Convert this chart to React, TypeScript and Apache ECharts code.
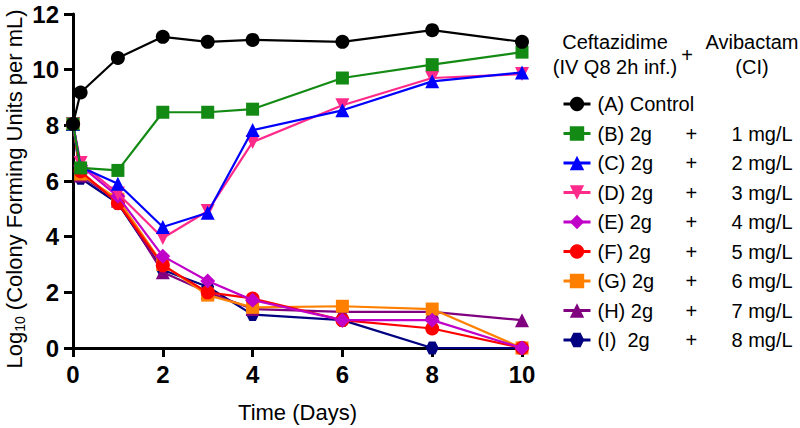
import React, { useEffect, useRef } from "react";
import * as echarts from "echarts";

const times = [0, 0.17, 1, 2, 3, 4, 6, 8, 10];
const seriesNames = ["(A) Control", "(B) 2g", "(C) 2g", "(D) 2g", "(E) 2g", "(F) 2g", "(G) 2g", "(H) 2g", "(I)  2g"];
const doses = ["", "1 mg/L", "2 mg/L", "3 mg/L", "4 mg/L", "5 mg/L", "6 mg/L", "7 mg/L", "8 mg/L"];
const colors = ["#000000", "#138a13", "#0000ff", "#ff2a8a", "#c000c8", "#ff0000", "#ff8000", "#800080", "#000080"];

const valuesA = [8.05, 9.18, 10.42, 11.18, 11.0, 11.07, 11.0, 11.42, 11.0];
const valuesB = [8.05, 6.47, 6.38, 8.47, 8.47, 8.58, 9.7, 10.18, 10.63];
const valuesC = [8.05, 6.5, 5.9, 4.35, 4.86, 7.83, 8.54, 9.58, 9.9];
const valuesD = [8.05, 6.65, 5.55, 3.95, 4.92, 7.4, 8.72, 9.7, 9.84];
const valuesE = [8.05, 6.55, 5.45, 3.3, 2.41, 1.72, 1.0, 1.0, 0];
const valuesF = [8.05, 6.35, 5.2, 2.97, 2.0, 1.78, 1.0, 0.7, 0];
const valuesG = [8.05, 6.25, 5.35, 3.0, 1.9, 1.46, 1.5, 1.4, 0];
const valuesH = [8.05, 6.2, 5.3, 2.72, 2.0, 1.4, 1.3, 1.3, 1.0];
const valuesI = [8.05, 6.1, 5.2, 2.8, 2.2, 1.2, 1.0, 0, 0];
const allValues = [valuesA, valuesB, valuesC, valuesD, valuesE, valuesF, valuesG, valuesH, valuesI];

const downTri = "path://M0,0 L10,0 L5,9 Z";
const hexagon = "path://M0,5 L2.5,0.67 L7.5,0.67 L10,5 L7.5,9.33 L2.5,9.33 Z";
const symbols = ["circle", "rect", "triangle", downTri, "diamond", "circle", "rect", "triangle", hexagon];
const symbolSizes = [14, 13, 14, 14, 15, 14, 13, 14, 13];

const FONT = "Liberation Sans, Arial, sans-serif";

export default function App() {
  const ref = useRef<HTMLDivElement>(null);
  useEffect(() => {
    if (!ref.current) return;
    const chart = echarts.init(ref.current, null, { renderer: "svg" });
    const series = seriesNames.map((name, i) => ({
      name,
      type: "line",
      data: times.map((t, j) => [t, allValues[i][j]]),
      symbol: symbols[i],
      symbolSize: symbolSizes[i],
      z: 20 - i,
      lineStyle: { color: colors[i], width: 2.2 },
      itemStyle: { color: colors[i] },
    }));
    chart.setOption({
      animation: false,
      grid: { left: 73, right: 278, top: 14, bottom: 75 },
      xAxis: {
        type: "value",
        min: 0,
        max: 10,
        interval: 2,
        name: "Time (Days)",
        nameLocation: "middle",
        nameGap: 53,
        nameTextStyle: { fontSize: 22, color: "#000", fontFamily: FONT },
        axisLine: { show: true, lineStyle: { color: "#000", width: 3 } },
        axisTick: { show: true, length: 9, lineStyle: { color: "#000", width: 3 } },
        axisLabel: { fontSize: 24, fontWeight: "bold", color: "#000", fontFamily: FONT, margin: 14 },
        splitLine: { show: false },
      },
      yAxis: {
        type: "value",
        min: 0,
        max: 12,
        interval: 2,
        axisLine: { show: true, lineStyle: { color: "#000", width: 3 } },
        axisTick: { show: true, length: 9, lineStyle: { color: "#000", width: 3 } },
        axisLabel: { fontSize: 24, fontWeight: "bold", color: "#000", fontFamily: FONT, margin: 14 },
        splitLine: { show: false },
      },
      legend: {
        orient: "vertical",
        left: 557,
        top: 89,
        itemWidth: 27,
        itemHeight: 18,
        itemGap: 9.5,
        data: seriesNames,
        lineStyle: { width: 3 },
        formatter: (name: string) => {
          const i = seriesNames.indexOf(name);
          if (!doses[i]) return `{t|${name}}`;
          return `{a|${name}}{b|+}{c|${doses[i]}}`;
        },
        textStyle: {
          fontFamily: FONT,
          fontSize: 20,
          color: "#000",
          rich: {
            t: { fontSize: 20, fontFamily: FONT, color: "#000", lineHeight: 20, padding: [0, 0, 0, 2] },
            a: { fontSize: 20, fontFamily: FONT, color: "#000", lineHeight: 20, width: 88, padding: [0, 0, 0, 2] },
            b: { fontSize: 20, fontFamily: FONT, color: "#000", lineHeight: 20, width: 46 },
            c: { fontSize: 20, fontFamily: FONT, color: "#000", lineHeight: 20 },
          },
        },
      },
      graphic: [
        {
          type: "text",
          x: 14,
          y: 189,
          rotation: Math.PI / 2,
          style: {
            text: "{n|Log}{s|10}{n| (Colony Forming Units per mL)}",
            align: "center",
            verticalAlign: "middle",
            fill: "#000",
            rich: {
              n: { fontSize: 22, fontFamily: FONT, fill: "#000", lineHeight: 26, verticalAlign: "middle" },
              s: { fontSize: 14, fontFamily: FONT, fill: "#000", lineHeight: 26, verticalAlign: "bottom", padding: [10, 0, 0, 0] },
            },
          },
        },
        { type: "text", x: 615, y: 42, style: { text: "Ceftazidime", align: "center", verticalAlign: "middle", fontSize: 20, fontFamily: FONT, fill: "#000" } },
        { type: "text", x: 615, y: 67, style: { text: "(IV Q8 2h inf.)", align: "center", verticalAlign: "middle", fontSize: 20, fontFamily: FONT, fill: "#000" } },
        { type: "text", x: 687, y: 55, style: { text: "+", align: "center", verticalAlign: "middle", fontSize: 20, fontFamily: FONT, fill: "#000" } },
        { type: "text", x: 752, y: 42, style: { text: "Avibactam", align: "center", verticalAlign: "middle", fontSize: 20, fontFamily: FONT, fill: "#000" } },
        { type: "text", x: 752, y: 67, style: { text: "(CI)", align: "center", verticalAlign: "middle", fontSize: 20, fontFamily: FONT, fill: "#000" } },
      ],
      series,
    });
    return () => chart.dispose();
  }, []);
  return <div ref={ref} style={{ width: 800, height: 428, position: "absolute", left: 0, top: 0 }} />;
}
